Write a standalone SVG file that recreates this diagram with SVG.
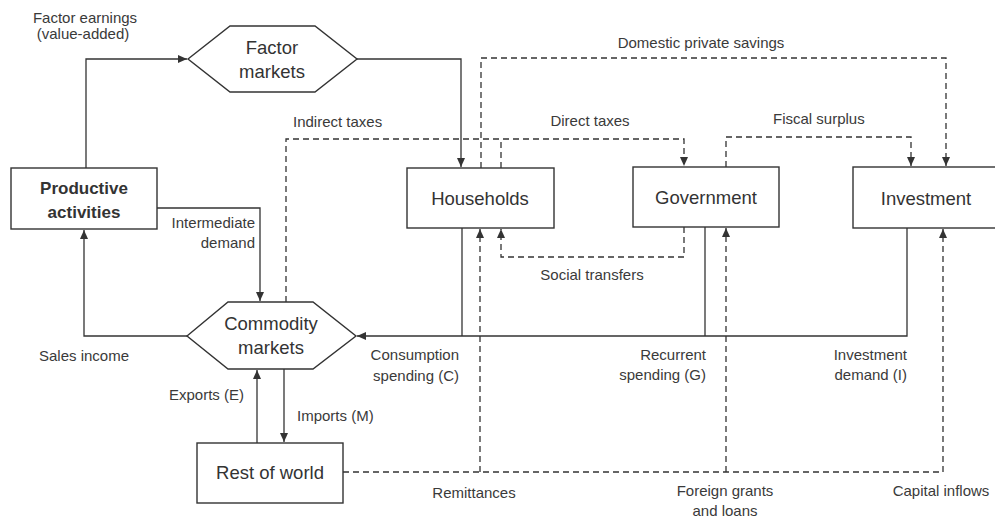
<svg xmlns="http://www.w3.org/2000/svg" width="995" height="518" viewBox="0 0 995 518">
<style>
  .box { fill: #ffffff; stroke: #333333; stroke-width: 1.4; }
  .solid { fill: none; stroke: #333333; stroke-width: 1.3; }
  .dash { fill: none; stroke: #333333; stroke-width: 1.3; stroke-dasharray: 6 4; }
  .lbl { font-family: "Liberation Sans", Arial, sans-serif; font-size: 15px; fill: #3a3a3a; }
  .node { font-family: "Liberation Sans", Arial, sans-serif; font-size: 18.5px; fill: #333333; text-anchor: middle; }
  .bold { font-weight: bold; font-size: 17px; }
  .mid { text-anchor: middle; }
  .end { text-anchor: end; }
</style>
<defs>
  <marker id="arr" markerUnits="userSpaceOnUse" markerWidth="9" markerHeight="8" refX="9" refY="4" orient="auto">
    <path d="M0,0 L9,4 L0,8 z" fill="#333333"/>
  </marker>
</defs>
<rect width="995" height="518" fill="#ffffff"/>

<g id="connectors">
  <!-- solid flows -->
  <polyline class="solid" points="86,168 86,59 187,59" marker-end="url(#arr)"/>
  <polyline class="solid" points="357,59 461,59 461,167" marker-end="url(#arr)"/>
  <polyline class="solid" points="157,208 260,208 260,301" marker-end="url(#arr)"/>
  <polyline class="solid" points="187,336 84,336 84,230" marker-end="url(#arr)"/>
  <line class="solid" x1="257" y1="443" x2="257" y2="370" marker-end="url(#arr)"/>
  <line class="solid" x1="284" y1="369" x2="284" y2="442" marker-end="url(#arr)"/>
  <line class="solid" x1="462" y1="228" x2="462" y2="336"/>
  <line class="solid" x1="705" y1="227" x2="705" y2="336"/>
  <polyline class="solid" points="907,228 907,336 357,336" marker-end="url(#arr)"/>
  <!-- dashed flows -->
  <polyline class="dash" points="286,302 286,139 684,139 684,166" marker-end="url(#arr)"/>
  <polyline class="dash" points="501,168 501,139"/>
  <polyline class="dash" points="481,168 481,58 946,58 946,166" marker-end="url(#arr)"/>
  <polyline class="dash" points="726,167 726,137 911,137 911,166" marker-end="url(#arr)"/>
  <polyline class="dash" points="684,227 684,257 501,257 501,229" marker-end="url(#arr)"/>
  <polyline class="dash" points="343,472 943,472"/>
  <line class="dash" x1="480" y1="472" x2="480" y2="229" marker-end="url(#arr)"/>
  <line class="dash" x1="726" y1="472" x2="726" y2="228" marker-end="url(#arr)"/>
  <line class="dash" x1="943" y1="472" x2="943" y2="229" marker-end="url(#arr)"/>
</g>

<g id="factor-markets">
  <polygon class="box" points="188,59 230,26 315,26 357,59 315,92 230,92"/>
  <text class="node" x="272" y="54">Factor</text>
  <text class="node" x="272" y="78">markets</text>
</g>

<g id="productive-activities">
  <rect class="box" x="11" y="168" width="146" height="61"/>
  <text class="node bold" x="84" y="194">Productive</text>
  <text class="node bold" x="84" y="218">activities</text>
</g>

<g id="commodity-markets">
  <polygon class="box" points="187,336 228,302 313,302 356,336 313,369 228,369"/>
  <text class="node" x="271" y="330">Commodity</text>
  <text class="node" x="271" y="354">markets</text>
</g>

<g id="rest-of-world">
  <rect class="box" x="197" y="443" width="146" height="60"/>
  <text class="node" x="270" y="479">Rest of world</text>
</g>

<g id="households">
  <rect class="box" x="407" y="168" width="147" height="60"/>
  <text class="node" x="480" y="205">Households</text>
</g>

<g id="government">
  <rect class="box" x="633" y="167" width="146" height="60"/>
  <text class="node" x="706" y="204">Government</text>
</g>

<g id="investment">
  <rect class="box" x="853" y="167" width="160" height="61"/>
  <text class="node" x="926" y="205">Investment</text>
</g>

<g id="labels">
  <text class="lbl mid" x="85" y="23">Factor earnings</text>
  <text class="lbl mid" x="83" y="39">(value-added)</text>
  <text class="lbl mid" x="701" y="48">Domestic private savings</text>
  <text class="lbl" x="293" y="127">Indirect taxes</text>
  <text class="lbl mid" x="590" y="126">Direct taxes</text>
  <text class="lbl" x="773" y="124">Fiscal surplus</text>
  <text class="lbl end" x="255" y="228">Intermediate</text>
  <text class="lbl end" x="255" y="248">demand</text>
  <text class="lbl mid" x="592" y="280">Social transfers</text>
  <text class="lbl" x="39" y="361">Sales income</text>
  <text class="lbl end" x="459" y="360">Consumption</text>
  <text class="lbl end" x="459" y="381">spending (C)</text>
  <text class="lbl end" x="706" y="360">Recurrent</text>
  <text class="lbl end" x="706" y="380">spending (G)</text>
  <text class="lbl end" x="907" y="360">Investment</text>
  <text class="lbl end" x="907" y="380">demand (I)</text>
  <text class="lbl end" x="244" y="400">Exports (E)</text>
  <text class="lbl" x="297" y="421">Imports (M)</text>
  <text class="lbl mid" x="474" y="498">Remittances</text>
  <text class="lbl mid" x="725" y="496">Foreign grants</text>
  <text class="lbl mid" x="725" y="516">and loans</text>
  <text class="lbl mid" x="941" y="496">Capital inflows</text>
</g>
</svg>
